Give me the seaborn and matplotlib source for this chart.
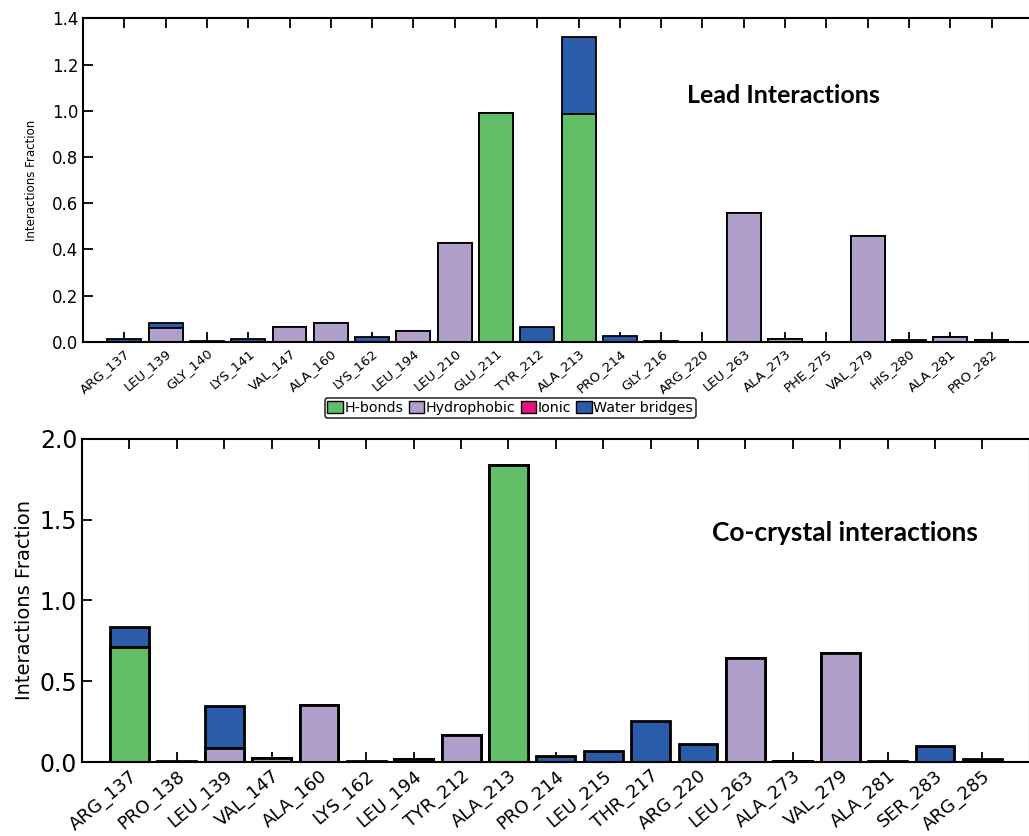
import numpy as np
import pandas as pd
import matplotlib
matplotlib.use("Agg")
import matplotlib.pyplot as plt
import seaborn as sns
from matplotlib.patches import Patch

sns.set_style('ticks')
plt.rcParams['font.family'] = ['DejaVu Sans']
plt.rcParams.update({'xtick.direction': 'in', 'ytick.direction': 'in',
                     'xtick.top': True, 'xtick.bottom': True,
                     'ytick.left': True, 'ytick.right': False,
                     'xtick.major.size': 7, 'ytick.major.size': 7,
                     'xtick.major.width': 1.3, 'ytick.major.width': 1.3,
                     'xtick.color': 'black', 'ytick.color': 'black',
                     'text.color': 'black', 'axes.labelcolor': 'black'})

# colours of the interaction types
c_hbond = '#62bd67'
c_hydro = '#b19fcb'
c_ionic = '#e5137f'
c_water = '#2b5caa'

# lead compound
lead_res = ['ARG_137', 'LEU_139', 'GLY_140', 'LYS_141', 'VAL_147', 'ALA_160', 'LYS_162',
            'LEU_194', 'LEU_210', 'GLU_211', 'TYR_212', 'ALA_213', 'PRO_214', 'GLY_216',
            'ARG_220', 'LEU_263', 'ALA_273', 'PHE_275', 'VAL_279', 'HIS_280', 'ALA_281', 'PRO_282']
lead_hbond = [0, 0, 0, 0, 0, 0, 0, 0, 0, 0.99, 0, 0.985, 0, 0, 0, 0, 0, 0, 0, 0, 0, 0]
lead_hydro = [0, 0.06, 0, 0, 0.065, 0.083, 0, 0.049, 0.43, 0, 0, 0, 0, 0, 0, 0.56, 0.012, 0, 0.458, 0, 0.023, 0.008]
lead_ionic = [0] * 22
lead_water = [0.013, 0.022, 0.003, 0.012, 0, 0, 0.02, 0, 0, 0, 0.063, 0.335, 0.027, 0.003, 0, 0, 0, 0, 0, 0.01, 0, 0]

# co-crystal ligand
co_res = ['ARG_137', 'PRO_138', 'LEU_139', 'VAL_147', 'ALA_160', 'LYS_162', 'LEU_194', 'TYR_212',
          'ALA_213', 'PRO_214', 'LEU_215', 'THR_217', 'ARG_220', 'LEU_263', 'ALA_273', 'VAL_279',
          'ALA_281', 'SER_283', 'ARG_285']
co_hbond = [0.715, 0, 0, 0, 0, 0, 0, 0, 1.84, 0, 0, 0, 0, 0, 0, 0, 0, 0, 0]
co_hydro = [0, 0, 0.089, 0.023, 0.353, 0, 0.02, 0.167, 0, 0, 0, 0, 0, 0.643, 0.004, 0.674, 0, 0, 0]
co_ionic = [0] * 19
co_water = [0.12, 0.004, 0.258, 0, 0, 0.004, 0, 0, 0, 0.037, 0.066, 0.254, 0.111, 0, 0, 0, 0.004, 0.101, 0.02]


def stacked(ax, res, hb, hyd, ion, wat, lw):
    df = pd.DataFrame({'res': res, 'hb': hb, 'hyd': hyd, 'ion': ion, 'wat': wat})
    # draw the cumulative totals first, lower layers on top
    layers = [(df.hb + df.hyd + df.ion + df.wat, c_water),
              (df.hb + df.hyd + df.ion, c_ionic),
              (df.hb + df.hyd, c_hydro),
              (df.hb, c_hbond)]
    for vals, col in layers:
        sns.barplot(x=df.res, y=vals, order=res, color=col, saturation=1,
                    edgecolor='black', linewidth=lw, width=0.82, ax=ax)
    ax.set_xlim(-1, len(res))
    ax.set_xlabel('')
    for s in ax.spines.values():
        s.set_color('black')
        s.set_linewidth(1.5)


fig = plt.figure(figsize=(10.29, 8.36), dpi=100)

ax1 = fig.add_axes([0.0807, 0.591, 0.923, 0.387])
stacked(ax1, lead_res, lead_hbond, lead_hydro, lead_ionic, lead_water, 1.3)
ax1.set_ylim(0, 1.4)
ax1.set_yticks(np.arange(0, 1.41, 0.2))
ax1.set_yticklabels(['%.1f' % v for v in np.arange(0, 1.41, 0.2)], fontsize=12)
ax1.set_xticks(range(len(lead_res)))
ax1.set_xticklabels(lead_res, rotation=40, ha='right', rotation_mode='anchor', fontsize=9.5)
ax1.set_ylabel('Interactions Fraction', fontsize=8.5, labelpad=10)
ax1.text(0.737, 0.762, 'Lead Interactions', transform=ax1.transAxes, ha='center', va='center',
         fontsize=18, fontweight='bold', family=['Lato', 'DejaVu Sans'])

ax2 = fig.add_axes([0.0797, 0.0885, 0.921, 0.3865])
stacked(ax2, co_res, co_hbond, co_hydro, co_ionic, co_water, 2)
ax2.set_ylim(0, 2.0)
ax2.set_yticks(np.arange(0, 2.01, 0.5))
ax2.set_yticklabels(['%.1f' % v for v in np.arange(0, 2.01, 0.5)], fontsize=17)
ax2.set_xticks(range(len(co_res)))
ax2.set_xticklabels(co_res, rotation=40, ha='right', rotation_mode='anchor', fontsize=13)
ax2.set_ylabel('Interactions Fraction', fontsize=14, labelpad=4)
ax2.text(0.805, 0.709, 'Co-crystal interactions', transform=ax2.transAxes, ha='center', va='center',
         fontsize=19, fontweight='bold', family=['Lato', 'DejaVu Sans'])

for ax in (ax1, ax2):
    ax.tick_params(axis='both', which='major', direction='in', length=7, width=1.3,
                   color='black', labelcolor='black')
    ax.tick_params(axis='x', bottom=True, top=True)
    ax.tick_params(axis='y', left=True, right=False)

handles = [Patch(facecolor=c, edgecolor='black', label=l) for c, l in
           [(c_hbond, 'H-bonds'), (c_hydro, 'Hydrophobic'), (c_ionic, 'Ionic'), (c_water, 'Water bridges')]]
leg = fig.legend(handles=handles, loc='center', bbox_to_anchor=(0.496, 0.512), ncol=4,
                 fontsize=10.3, handlelength=1.1, handleheight=0.9, handletextpad=0.1,
                 columnspacing=0.35, borderpad=0.2, borderaxespad=0, frameon=True, fancybox=True)
leg.get_frame().set_edgecolor('black')
leg.get_frame().set_linewidth(1.2)
for t in leg.get_texts():
    t.set_color('black')

plt.savefig('out.png', dpi=100)
